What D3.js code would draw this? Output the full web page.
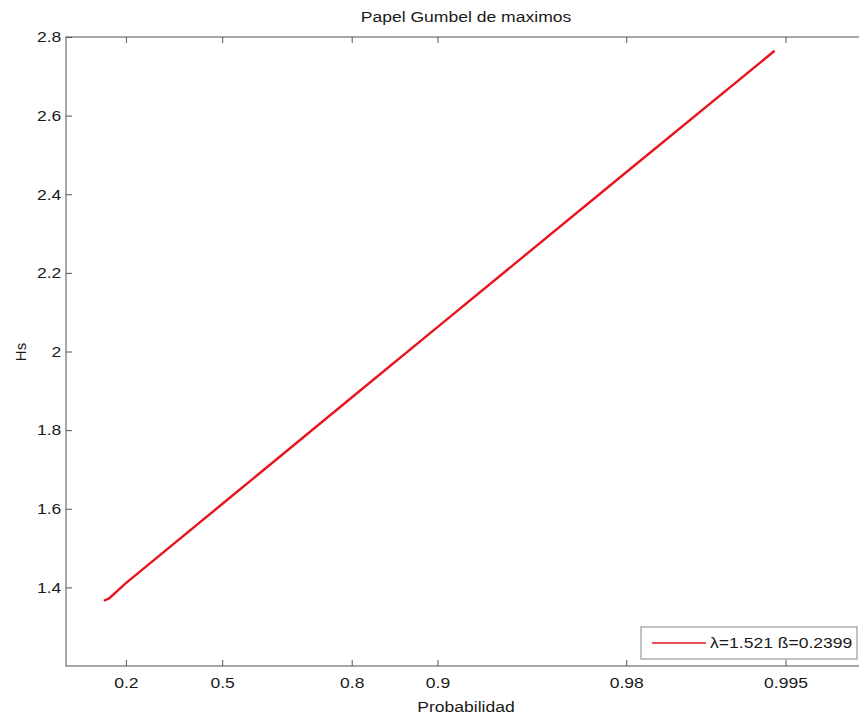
<!DOCTYPE html>
<html>
<head>
<meta charset="utf-8">
<script src="https://cdn.jsdelivr.net/npm/d3@7"></script>
<style>
  body { margin: 0; background: #fff; }
  svg { font-family: "Liberation Sans", Arial, sans-serif; }
</style>
</head>
<body>
<div id="chart"></div>
<script>
// Gumbel fit (probability, Hs)
const probs = [0.142, 0.155, 0.2, 0.5, 0.8, 0.9, 0.98, 0.9945];
const hsVals = [1.366, 1.372, 1.411, 1.612, 1.883, 2.062, 2.456, 2.765];
const probTicks = [0.2, 0.5, 0.8, 0.9, 0.98, 0.995];
const hsTicks = [1.4, 1.6, 1.8, 2, 2.2, 2.4, 2.6, 2.8];
const legendText = "λ=1.521 ß=0.2399";

const width = 859, height = 719;
const margin = { top: 37, right: -7, bottom: 53, left: 66 };
const stretch = 'scale(1.17,1)'; // the picture is a bit wide

// reduced variate of Gumbel paper
const reduced = p => -Math.log(-Math.log(p));

const svg = d3.select('#chart').append('svg')
    .attr('width', width)
    .attr('height', height);

const xScale = d3.scaleLinear()
    .domain([-1, 6])
    .range([margin.left, width - margin.right]);

const yScale = d3.scaleLinear()
    .domain([1.2, 2.8])
    .range([height - margin.bottom, margin.top]);

const axisColor = '#8a8a8a';

// plot box
svg.append('rect')
    .attr('x', margin.left)
    .attr('y', margin.top)
    .attr('width', xScale.range()[1] - margin.left)
    .attr('height', yScale.range()[0] - margin.top)
    .attr('fill', 'none')
    .attr('stroke', axisColor)
    .attr('stroke-width', 1.5);

function styleAxis(g) {
    g.select('.domain').remove();
    g.selectAll('.tick line').attr('stroke', '#555').attr('stroke-width', 1);
    g.selectAll('.tick text')
        .attr('fill', '#1a1a1a')
        .attr('font-size', '15px')
        .attr('transform', stretch);
}

// bottom axis
svg.append('g')
    .attr('transform', `translate(0,${yScale.range()[0]})`)
    .call(d3.axisBottom(xScale)
        .tickValues(probTicks.map(reduced))
        .tickFormat((d, i) => probTicks[i])
        .tickSizeInner(-6).tickPadding(11))
    .call(styleAxis);

// top ticks
svg.append('g')
    .attr('transform', `translate(0,${margin.top})`)
    .call(d3.axisTop(xScale)
        .tickValues(probTicks.map(reduced))
        .tickFormat('')
        .tickSizeInner(-6))
    .call(styleAxis);

// left axis
svg.append('g')
    .attr('transform', `translate(${margin.left},0)`)
    .call(d3.axisLeft(yScale)
        .tickValues(hsTicks)
        .tickFormat(d3.format('~g'))
        .tickSizeInner(-6).tickPadding(4))
    .call(styleAxis);

// fitted line
const line = d3.line()
    .x((d, i) => xScale(reduced(probs[i])))
    .y(d => yScale(d));

svg.append('path')
    .datum(hsVals)
    .attr('d', line)
    .attr('fill', 'none')
    .attr('stroke', '#e8141e')
    .attr('stroke-width', 2.4);

// title and labels
svg.append('g').attr('transform', 'translate(466,22)')
  .append('text')
    .attr('transform', stretch)
    .attr('text-anchor', 'middle')
    .attr('font-size', '15px')
    .attr('fill', '#1a1a1a')
    .text('Papel Gumbel de maximos');

svg.append('g').attr('transform', 'translate(466,712)')
  .append('text')
    .attr('transform', stretch)
    .attr('text-anchor', 'middle')
    .attr('font-size', '15px')
    .attr('fill', '#1a1a1a')
    .text('Probabilidad');

svg.append('text')
    .attr('transform', 'translate(26,352) rotate(-90)')
    .attr('text-anchor', 'middle')
    .attr('font-size', '15px')
    .attr('fill', '#1a1a1a')
    .text('Hs');

// legend
const lg = svg.append('g').attr('transform', 'translate(641,627)');
lg.append('rect')
    .attr('width', 216).attr('height', 32)
    .attr('fill', '#fff')
    .attr('stroke', '#999')
    .attr('stroke-width', 1.2);
lg.append('line')
    .attr('x1', 11).attr('x2', 65)
    .attr('y1', 16).attr('y2', 16)
    .attr('stroke', '#e8141e')
    .attr('stroke-width', 1.5);
lg.append('g').attr('transform', 'translate(69,21)')
  .append('text')
    .attr('transform', stretch)
    .attr('font-size', '15px')
    .attr('fill', '#1a1a1a')
    .text(legendText);
</script>
</body>
</html>
